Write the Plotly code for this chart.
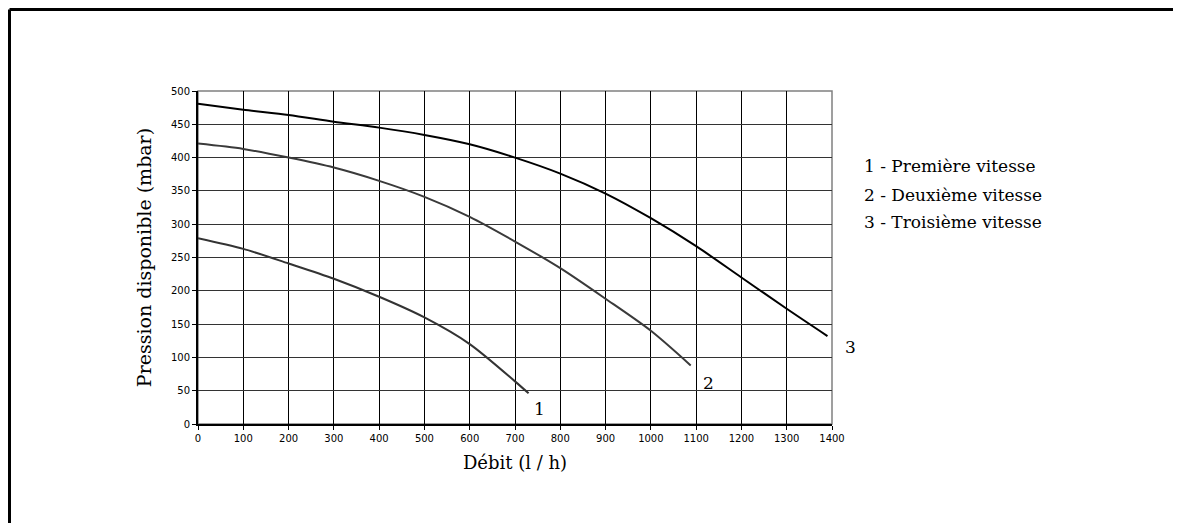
import plotly.graph_objects as go

# Data
x1 = [0, 100, 200, 300, 400, 500, 600, 700, 730]
y1 = [279, 263, 241, 218, 191, 160, 120, 64, 46]

x2 = [0, 100, 200, 300, 400, 500, 600, 700, 800, 900, 1000, 1088]
y2 = [421, 413, 400, 385, 365, 341, 311, 274, 234, 188, 140, 88]

x3 = [0, 100, 200, 300, 400, 500, 600, 700, 800, 900, 1000, 1100, 1200, 1300, 1390]
y3 = [481, 472, 464, 454, 445, 434, 420, 400, 376, 346, 309, 267, 220, 173, 132]

curve_labels = ["1", "2", "3"]
legend_texts = ["1 - Première vitesse", "2 - Deuxième vitesse", "3 - Troisième vitesse"]

x_title = "Débit (l / h)"
y_title = "Pression disponible (mbar)"

SERIF = "DejaVu Serif"
SANS = "DejaVu Sans"

fig = go.Figure()
for xs, ys, col in [(x1, y1, "#333333"), (x2, y2, "#3a3a3a"), (x3, y3, "#000000")]:
    fig.add_trace(go.Scatter(x=xs, y=ys, mode="lines",
                             line=dict(color=col, width=2, shape="spline", smoothing=0.8),
                             showlegend=False, hoverinfo="skip"))

OFF = 8  # page body margin
W, H = 1181, 523
L, R, T, B = 198, 832, 91, 424  # target plot-area pixels in the screenshot
fig.update_layout(
    width=W, height=H,
    margin=dict(l=L - OFF, r=W - (R - OFF), t=T - OFF, b=H - (B - OFF)),
    paper_bgcolor="white", plot_bgcolor="white",
    showlegend=False,
)


def px(xp):
    return (xp - L) / (R - L)


def py(yp):
    return (B - yp) / (B - T)


fig.update_xaxes(range=[0, 1400], tickvals=list(range(0, 1401, 100)),
                 showgrid=True, gridcolor="#000000", gridwidth=1,
                 showline=True, linecolor="#000000", linewidth=2,
                 ticks="outside", ticklen=4, tickcolor="#000000",
                 tickfont=dict(family=SANS, size=10, color="#000"),
                 zeroline=False,
                 title=dict(text=x_title, font=dict(family=SERIF, size=18, color="#000"), standoff=13))
fig.update_yaxes(range=[0, 500], tickvals=list(range(0, 501, 50)),
                 showgrid=True, gridcolor="#333333", gridwidth=1,
                 showline=True, linecolor="#000000", linewidth=2,
                 ticks="outside", ticklen=4, tickcolor="#000000",
                 tickfont=dict(family=SANS, size=10, color="#000"),
                 zeroline=False,
                 title=dict(text=y_title, font=dict(family=SERIF, size=19, color="#000"), standoff=14))

# plot-area border (top/right grey)
fig.add_shape(type="rect", xref="paper", yref="paper", x0=0, x1=1, y0=0, y1=1,
              line=dict(color="#808080", width=1.5), layer="below")

# outer frame (top and left edges visible)
fx = px(9.5)
fy = py(9.5)
fig.add_shape(type="line", xref="paper", yref="paper", x0=fx, x1=2.0, y0=fy, y1=fy,
              line=dict(color="#000000", width=3))
fig.add_shape(type="line", xref="paper", yref="paper", x0=fx, x1=fx, y0=fy, y1=-2.0,
              line=dict(color="#000000", width=3))

# curve number labels
label_px = [(539, 409), (708, 383), (850, 347)]
for t, (lx, ly) in zip(curve_labels, label_px):
    fig.add_annotation(x=px(lx), y=py(ly), xref="paper", yref="paper", text=t, showarrow=False,
                       xanchor="center", yanchor="middle",
                       font=dict(family=SERIF, size=17, color="#000"))

for i, t in enumerate(legend_texts):
    yp = [166, 195, 222][i]
    fig.add_annotation(x=px(862), y=py(yp), xref="paper", yref="paper",
                       text=t, showarrow=False, xanchor="left", yanchor="middle",
                       font=dict(family=SERIF, size=17, color="#000"))

fig.write_html("out.html")
